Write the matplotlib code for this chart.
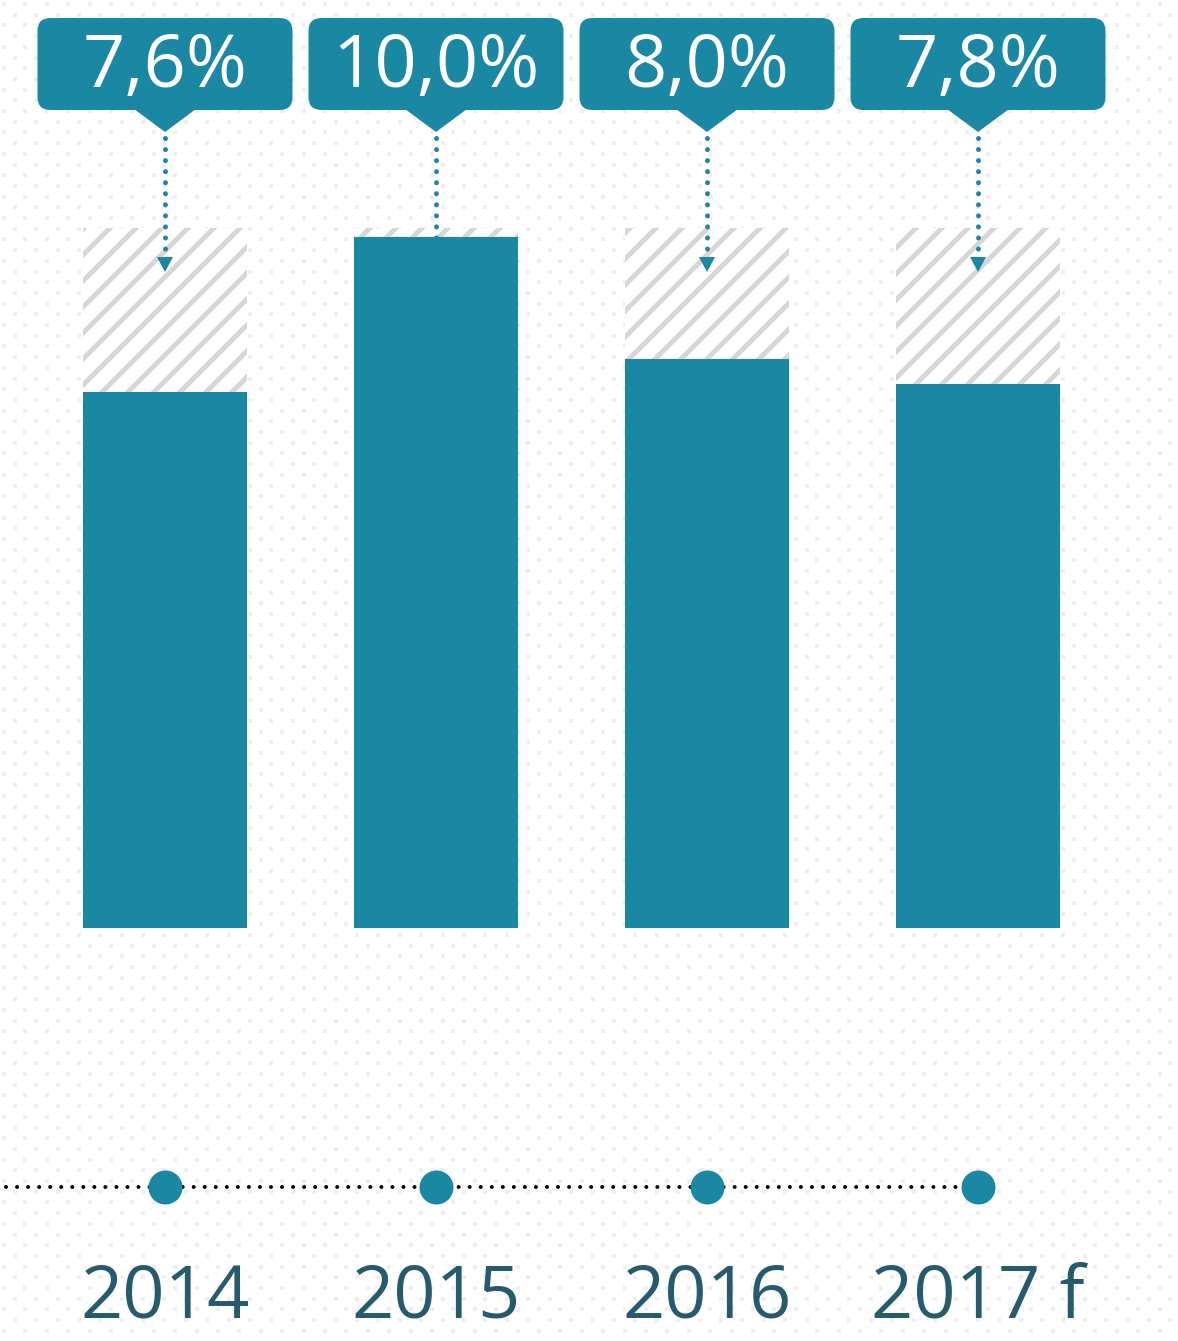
import numpy as np
import matplotlib
matplotlib.use('Agg')
import matplotlib.pyplot as plt
from matplotlib.patches import FancyBboxPatch, Polygon

# data
years = ['2014', '2015', '2016', '2017 f']
labels = ['7,6%', '10,0%', '8,0%', '7,8%']
bar_height = [7.76, 10.0, 8.23, 7.87]
cap = 10.13                              # hatched backdrop height

TEAL = '#1a87a3'
DARK = '#265a6d'
W, H = 1178, 1341
DPI = 78   # hatch spacing ~13px


def pt(px):
    return px * 72 / DPI


plt.rcParams['font.family'] = ['Open Sans', 'DejaVu Sans']
plt.rcParams['hatch.color'] = '#d6d6d6'
plt.rcParams['hatch.linewidth'] = pt(5)

fig = plt.figure(figsize=(W / DPI, H / DPI), dpi=DPI)
fig.patch.set_facecolor('white')

# faint dot texture behind everything
bg = fig.add_axes([0, 0, 1, 1], zorder=0)
bg.set_xlim(0, W)
bg.set_ylim(H, 0)
bg.axis('off')
gx, gy = np.meshgrid(np.arange(4, W, 21.4), np.arange(4, H, 10.7))
shift = (np.arange(gy.shape[0]) % 2)[:, None] * 10.7
bg.scatter((gx + shift).ravel(), gy.ravel(), s=pt(4) ** 2, marker='s',
           color='#efefef', linewidths=0)

ax = fig.add_axes([0, 0, 1, 1], zorder=1)
ax.patch.set_alpha(0)
ux = 271.0    # px per category
uy = 69.1     # px per value unit
x0, y0 = 165, 928
ax.set_xlim(-x0 / ux, (W - x0) / ux)
ax.set_ylim(-(H - y0) / uy, y0 / uy)
ax.axis('off')

x = np.arange(len(years))
bw = 164 / ux

ax.bar(x, [cap] * len(x), width=bw, color='white', hatch='/',
       edgecolor='#d6d6d6', linewidth=0, zorder=1)
ax.bar(x, bar_height, width=bw, color=TEAL, linewidth=0, zorder=3)

# callouts with dotted arrows
box_w, box_h = 255 / ux, 92 / uy
box_bot = (y0 - 110) / uy
for xi, lab in zip(x, labels):
    box = FancyBboxPatch((xi - box_w / 2, box_bot), box_w, box_h,
                         boxstyle='round,pad=0,rounding_size=%f' % (13 / ux),
                         mutation_aspect=ux / uy, fc=TEAL, ec='none', zorder=4)
    ax.add_patch(box)
    ax.add_patch(Polygon([(xi - 31 / ux, box_bot + 1 / uy),
                          (xi + 31 / ux, box_bot + 1 / uy),
                          (xi, box_bot - 22 / uy)],
                         closed=True, fc=TEAL, ec='none', zorder=4))
    ax.text(xi, (y0 - 87) / uy, lab, ha='center', va='baseline',
            fontsize=pt(74), color='white', zorder=5)

    tip = cap - 44 / uy
    ax.plot([xi, xi], [box_bot - 28 / uy, tip + 18 / uy], color=TEAL,
            lw=pt(5), linestyle=(0, (0.01, 11 / 5)),
            dash_capstyle='round', zorder=2)
    ax.add_patch(Polygon([(xi - 8 / ux, tip + 15 / uy),
                          (xi + 8 / ux, tip + 15 / uy),
                          (xi, tip)],
                         closed=True, fc=TEAL, ec='none', zorder=2))

# timeline
ty = (y0 - 1187) / uy
ax.plot([-x0 / ux + 6 / ux, x[-1]], [ty, ty], color='black', lw=pt(4),
        linestyle=(0, (0.01, 11 / 4)), dash_capstyle='round', zorder=2)
ax.scatter(x, [ty] * len(x), s=pt(34) ** 2, color=TEAL, linewidths=0, zorder=3)

for xi, yr in zip(x, years):
    ax.text(xi, (y0 - 1318) / uy, yr, ha='center', va='baseline',
            fontsize=pt(74), color=DARK)

fig.savefig('out.png', dpi=DPI, facecolor='white')
